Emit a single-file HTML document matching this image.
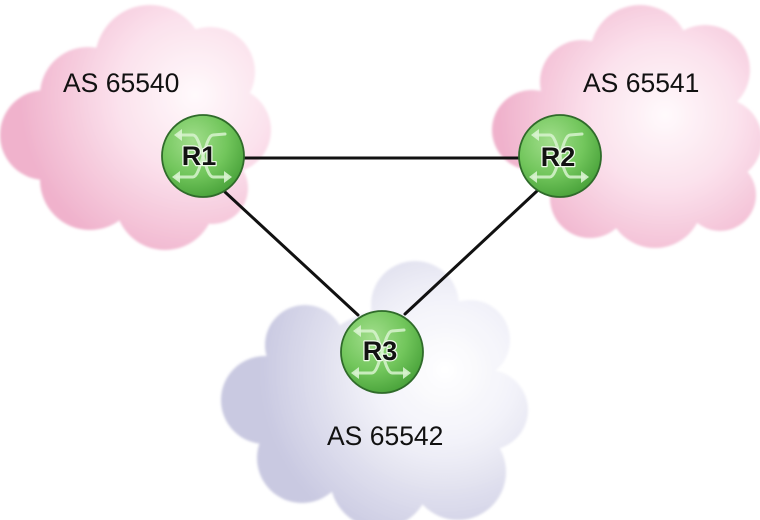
<!DOCTYPE html>
<html>
<head>
<meta charset="utf-8">
<style>
  html, body { margin: 0; padding: 0; background: #ffffff; }
  body { width: 760px; height: 520px; overflow: hidden; }
  svg { display: block; }
  .as { font-family: "Liberation Sans", Arial, sans-serif; font-size: 26.5px; fill: #111; }
  .rl { font-family: "Liberation Sans", Arial, sans-serif; font-weight: bold; font-size: 27px; fill: #121212;
        stroke: #eefbe8; stroke-width: 2.5px; paint-order: stroke; stroke-linejoin: round; }
</style>
</head>
<body>
<svg width="760" height="520" viewBox="0 0 760 520" xmlns="http://www.w3.org/2000/svg">
  <defs>
    <radialGradient id="pinkL" gradientUnits="userSpaceOnUse" cx="195" cy="95" r="175">
      <stop offset="0" stop-color="#fffafc"/>
      <stop offset="0.45" stop-color="#fbe1ec"/>
      <stop offset="1" stop-color="#f0b2cc"/>
    </radialGradient>
    <radialGradient id="pinkR" gradientUnits="userSpaceOnUse" cx="665" cy="115" r="165">
      <stop offset="0" stop-color="#fffafc"/>
      <stop offset="0.45" stop-color="#fbe1ec"/>
      <stop offset="1" stop-color="#f0b2cc"/>
    </radialGradient>
    <radialGradient id="lav" gradientUnits="userSpaceOnUse" cx="445" cy="370" r="185">
      <stop offset="0" stop-color="#ffffff"/>
      <stop offset="0.4" stop-color="#f2f2f9"/>
      <stop offset="1" stop-color="#c9c9e1"/>
    </radialGradient>
    <radialGradient id="grn" cx="0.38" cy="0.32" r="0.75">
      <stop offset="0" stop-color="#a2de8c"/>
      <stop offset="0.55" stop-color="#72c65c"/>
      <stop offset="1" stop-color="#449e36"/>
    </radialGradient>
    <filter id="soft" x="-5%" y="-5%" width="110%" height="110%">
      <feGaussianBlur stdDeviation="1.2"/>
    </filter>
    <g id="router">
      <circle cx="0" cy="0" r="41" fill="url(#grn)" stroke="#2f6b2a" stroke-width="1.8"/>
      <g fill="none" stroke="#d8f3cf" stroke-opacity="0.85" stroke-width="3" stroke-linecap="round">
        <path d="M-24,-21 L-10,-21 C-2,-21 2,21 10,21 L24,21"/>
        <path d="M22,-22 L10,-21 C2,-21 -2,21 -10,21 L-26,21"/>
      </g>
      <g fill="#d8f3cf" fill-opacity="0.9">
        <path d="M-29,-21 L-21,-27 L-21,-15 Z"/>
        <path d="M-31,21 L-23,15 L-23,27 Z"/>
        <path d="M29,21 L21,15 L21,27 Z"/>
      </g>
    </g>
  </defs>

  <!-- Left pink cloud AS 65540 -->
  <g fill="url(#pinkL)" filter="url(#soft)">
    <circle cx="150" cy="60" r="55"/>
    <circle cx="210" cy="72" r="45"/>
    <circle cx="228" cy="130" r="43"/>
    <circle cx="88" cy="95" r="48"/>
    <circle cx="45" cy="135" r="45"/>
    <circle cx="90" cy="180" r="50"/>
    <circle cx="165" cy="200" r="50"/>
    <circle cx="212" cy="188" r="36"/>
    <circle cx="145" cy="130" r="75"/>
  </g>

  <!-- Right pink cloud AS 65541 -->
  <g fill="url(#pinkR)" filter="url(#soft)">
    <circle cx="640" cy="55" r="50"/>
    <circle cx="582" cy="82" r="42"/>
    <circle cx="705" cy="70" r="45"/>
    <circle cx="532" cy="130" r="40"/>
    <circle cx="720" cy="140" r="42"/>
    <circle cx="640" cy="140" r="75"/>
    <circle cx="590" cy="198" r="40"/>
    <circle cx="655" cy="200" r="48"/>
    <circle cx="720" cy="195" r="36"/>
  </g>

  <!-- Bottom lavender cloud AS 65542 -->
  <g fill="url(#lav)" filter="url(#soft)">
    <circle cx="415" cy="305" r="44"/>
    <circle cx="305" cy="345" r="40"/>
    <circle cx="265" cy="400" r="44"/>
    <circle cx="302" cy="458" r="45"/>
    <circle cx="380" cy="478" r="50"/>
    <circle cx="458" cy="472" r="48"/>
    <circle cx="488" cy="410" r="40"/>
    <circle cx="470" cy="340" r="40"/>
    <circle cx="390" cy="400" r="90"/>
  </g>

  <!-- Connectors -->
  <g stroke="#111" stroke-width="3" stroke-linecap="round">
    <line x1="240" y1="158" x2="522" y2="158"/>
    <line x1="225" y1="192" x2="358" y2="315"/>
    <line x1="537" y1="191" x2="405" y2="314"/>
  </g>

  <!-- Routers -->
  <use href="#router" x="203" y="156"/>
  <use href="#router" x="560" y="156"/>
  <use href="#router" x="382" y="352"/>

  <text class="rl" x="199" y="165" text-anchor="middle">R1</text>
  <text class="rl" x="558" y="166" text-anchor="middle">R2</text>
  <text class="rl" x="380" y="360" text-anchor="middle">R3</text>

  <!-- AS labels -->
  <text class="as" x="63" y="92">AS 65540</text>
  <text class="as" x="583" y="92">AS 65541</text>
  <text class="as" x="327" y="445">AS 65542</text>
</svg>
</body>
</html>
